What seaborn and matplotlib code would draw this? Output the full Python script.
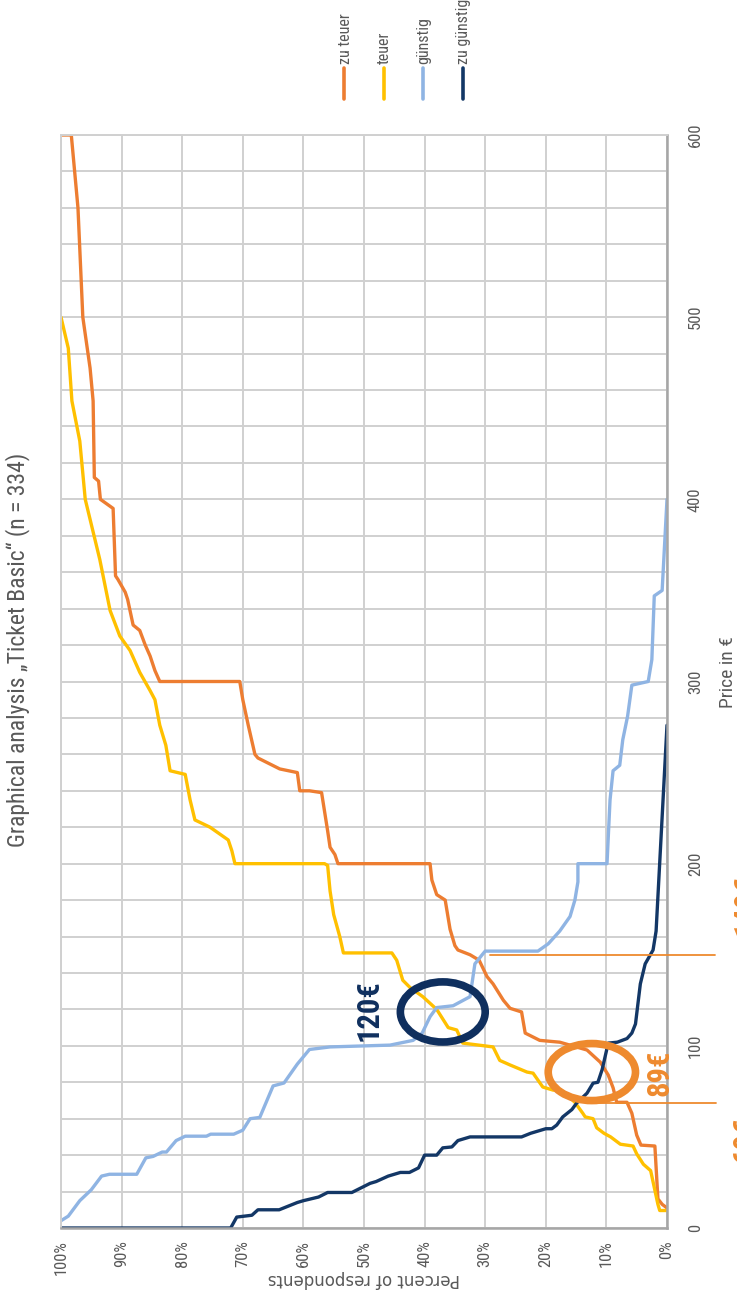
import pandas as pd
import matplotlib.pyplot as plt
import seaborn as sns
from matplotlib import font_manager
from matplotlib.lines import Line2D
from matplotlib.patches import Ellipse

# -----------------------------
# Data (percent of respondents, price in €)
# -----------------------------
series_labels = ["zu teuer", "teuer", "günstig", "zu günstig"]
series_colors = ["#ED7D31", "#FFC000", "#8FB4E3", "#133766"]

zu_teuer_pct = [0, 0.8, 1.5, 2.0, 4.3, 5.0, 5.8, 6.6, 8.3, 8.9, 9.7, 11, 13.2, 17.7, 21, 23.4, 24,
                25.9, 27, 28.7, 29.7, 31, 32.5, 34.5, 35, 35.8, 36.6, 38, 38.8, 39.1, 54.3, 54.8, 55.6, 56,
                57, 59, 60.6, 61, 63.9, 66.3, 67.5, 68, 69.1, 70, 70.5, 83.7, 84.5, 85.3, 86.1, 87,
                88.1, 89, 89.4, 90.6, 91, 91.4, 93.5, 93.8, 94.5, 94.7, 95.2, 96.4, 97.2, 98.3, 100]
zu_teuer_price = [11, 13, 16, 45, 45.5, 51, 63, 69, 69, 77, 84, 91, 97.7, 102, 103, 107, 118.6,
                  120.6, 125, 134, 138, 147, 150, 152.6, 155, 164, 180, 183, 191, 200, 200, 205, 209,
                  218, 239, 240, 240, 250, 252, 256, 258, 260, 276, 290, 300, 300, 306, 314, 320, 328,
                  331, 345, 349, 356, 358, 395, 400, 410, 412, 454, 472, 500, 560, 600, 600]

teuer_pct = [0, 1.2, 1.5, 2.7, 3.9, 5.0, 5.6, 7.7, 9.3, 10.4, 11.6, 12.2, 13.5, 13.9, 15.2, 17.4,
             18.8, 20.5, 22.1, 23.1, 25.9, 27.6, 28.7, 33.7, 34.7, 36.1, 38, 40.3, 42.4, 43.6, 44.6,
             45.4, 53.4, 54, 55, 55.6, 56, 56.5, 71.3, 71.8, 72.4, 75.4, 77.9, 78.7, 79.5, 82, 82.7,
             83.7, 84.5, 85.3, 87, 88.6, 90.3, 91.9, 93.6, 96, 96.9, 98.2, 98.8, 100]
teuer_price = [9.6, 9.6, 13, 31.5, 35, 40.7, 45, 46, 50, 52, 55, 60, 61, 63, 69, 75.6,
               75.7, 77.4, 85, 85.6, 89.5, 92, 99.4, 101.5, 108.7, 110, 120, 127, 132, 136, 147,
               151, 151, 160, 172, 185, 199, 200, 200, 207, 213, 220, 224, 235, 249, 251, 265,
               276, 290, 295, 305, 317, 325, 339, 367, 400, 432, 454, 483, 500]

guenstig_pct = [100, 98.8, 96.9, 95, 93.3, 92, 87.5, 86, 84.8, 83.3, 82.6, 81, 79.5, 76, 75.3,
                71.5, 70, 68.8, 67.2, 65, 63.2, 61, 59, 55.6, 45.7, 41.9, 40.4, 39.1, 38, 35.3,
                32.5, 31.7, 30.5, 30, 21.3, 19.6, 17.7, 16, 15.2, 14.7, 14.7, 9.9, 9.4, 8.9, 7.8,
                7.3, 6.5, 5.8, 3.1, 2.5, 2.1, 0.8, 0]
guenstig_price = [4, 6.5, 15, 21, 28.5, 29.5, 29.5, 38.5, 39.3, 41.7, 41.7, 48, 50.4, 50.4, 51.5,
                  51.5, 53.7, 60, 60.7, 78, 79.6, 90, 98, 99.4, 100.4, 103, 107, 116, 121, 122,
                  127, 145, 150, 152, 152, 156, 163, 171, 180, 190, 200, 200, 235, 251, 254,
                  268, 281, 298, 300, 312, 347, 350, 400]

zu_guenstig_pct = [100, 72, 71, 68.5, 67.5, 64, 61, 60, 57.5, 56, 52, 49, 48, 46, 44, 42.5, 41, 40,
                   38, 37, 35.5, 34.5, 32.5, 24, 22.5, 20, 19, 18.2, 17.2, 15.7, 14.9, 13.2, 12.2,
                   11.4, 10.7, 9.7, 8.2, 6.6, 5.8, 5.2, 4.4, 3.6, 2.3, 1.8, 0]
zu_guenstig_price = [0, 0, 6, 7, 10, 10, 14, 15, 17, 19.5, 19.5, 24.5, 25.5, 28.5, 30.5, 30.5, 33,
                     40, 40, 44, 44.5, 48, 50, 50, 52, 54.5, 54.5, 56.5, 61, 65, 68.6, 74, 79.5,
                     80, 87, 101.5, 102, 104, 107, 112, 134, 145, 152.6, 163, 276]

# annotations
circle_labels = ["89€", "120€"]
ref_labels = ["149€", "69€"]
ref_prices = [149.8, 68.6]

title = "Graphical analysis „Ticket Basic“ (n = 334)"

# -----------------------------
# Plot settings
# -----------------------------
sns.set_style("white")
names = {f.name for f in font_manager.fontManager.ttflist}
main_font = "Roboto Condensed" if "Roboto Condensed" in names else "Roboto"
plt.rcParams["font.family"] = [main_font, "DejaVu Sans"]

gray = "#595959"
orange = "#EE8A2E"
navy = "#0F2F5E"

W, H = 737, 1293


def fx(px):
    return px / W


def fy(py):
    return 1 - py / H


frames = []
for lab, p, v in zip(series_labels,
                     [zu_teuer_pct, teuer_pct, guenstig_pct, zu_guenstig_pct],
                     [zu_teuer_price, teuer_price, guenstig_price, zu_guenstig_price]):
    frames.append(pd.DataFrame({"pct": p, "price": v, "series": lab}))
df = pd.concat(frames, ignore_index=True)

fig = plt.figure(figsize=(7.37, 12.93), dpi=100)
ax = fig.add_axes([fx(61), 65 / H, 606 / W, 1093 / H])

sns.lineplot(
    data=df, x="pct", y="price", hue="series",
    hue_order=series_labels, palette=series_colors,
    orient="y", sort=False, estimator=None,
    lw=2.4, legend=False, ax=ax
)

ax.set_xlim(100, 0)
ax.set_ylim(0, 600)
ax.set_xticks(range(0, 101, 10))
ax.set_xticklabels([f"{v}%" for v in range(0, 101, 10)])
ax.set_yticks(range(0, 601, 100))
ax.set_yticks(range(0, 601, 20), minor=True)
ax.yaxis.tick_right()
ax.set_xlabel("")
ax.set_ylabel("")
ax.tick_params(axis="x", rotation=90, length=0, pad=9, labelsize=12, colors=gray)
ax.tick_params(axis="y", which="major", rotation=90, length=0, pad=15, labelsize=12, colors=gray)
ax.tick_params(axis="y", which="minor", length=0)
for t in ax.get_yticklabels():
    t.set_va("center")

ax.grid(which="both", color="#D0D0D0", lw=1.4)
ax.set_axisbelow(True)
for s in ["top", "left"]:
    ax.spines[s].set_color("#D0D0D0")
    ax.spines[s].set_linewidth(1.4)
for s in ["right", "bottom"]:
    ax.spines[s].set_color("#A6A6A6")
    ax.spines[s].set_linewidth(1.8)

# intersection circles and labels
ax.add_patch(Ellipse((12.4, 85.6), 14.4, 31.3, fill=False, ec=orange, lw=5.5, zorder=5))
ax.add_patch(Ellipse((37, 118.6), 14, 33, fill=False, ec=navy, lw=5.5, zorder=5))
ax.text(1.2, 85, circle_labels[0], rotation=90, ha="center", va="center",
        fontsize=22, fontweight="bold", color=orange, clip_on=False, zorder=6)
ax.text(49.3, 119.6, circle_labels[1], rotation=90, ha="center", va="center",
        fontsize=22, fontweight="bold", color=navy, zorder=6)

# reference lines running into the right margin
ax.plot([29.2, -7.9], [ref_prices[0]] * 2, color=orange, lw=1.3, clip_on=False, zorder=4)
ax.plot([12.5, -8.1], [ref_prices[1]] * 2, color=orange, lw=1.3, clip_on=False, zorder=4)
fig.text(fx(746), fy(905), ref_labels[0], rotation=90, ha="center", va="center",
         fontsize=22, fontweight="bold", color=orange)
fig.text(fx(745), fy(1140), ref_labels[1], rotation=90, ha="center", va="center",
         fontsize=22, fontweight="bold", color=orange)

# titles and axis labels (rotated chart)
fig.text(fx(18), fy(650), title, rotation=90, ha="center", va="center",
         fontsize=17, color=gray)
fig.text(fx(364), fy(1279), "Percent of respondents", rotation=180, ha="center", va="center",
         fontsize=12, color=gray, family="DejaVu Sans")
fig.text(fx(728), fy(672), "Price in €", rotation=90, ha="center", va="center",
         fontsize=14, color=gray)

# legend drawn by hand (rotated)
for i, (lab, col) in enumerate(zip(series_labels, series_colors)):
    x = 344 + 39.5 * i
    fig.add_artist(Line2D([fx(x), fx(x)], [fy(99), fy(68)], color=col, lw=2.6,
                          solid_capstyle="round"))
    fig.text(fx(x + 1), fy(64), lab, rotation=90, ha="center", va="bottom",
             fontsize=11.5, color=gray)

fig.savefig("out.png", dpi=100)
